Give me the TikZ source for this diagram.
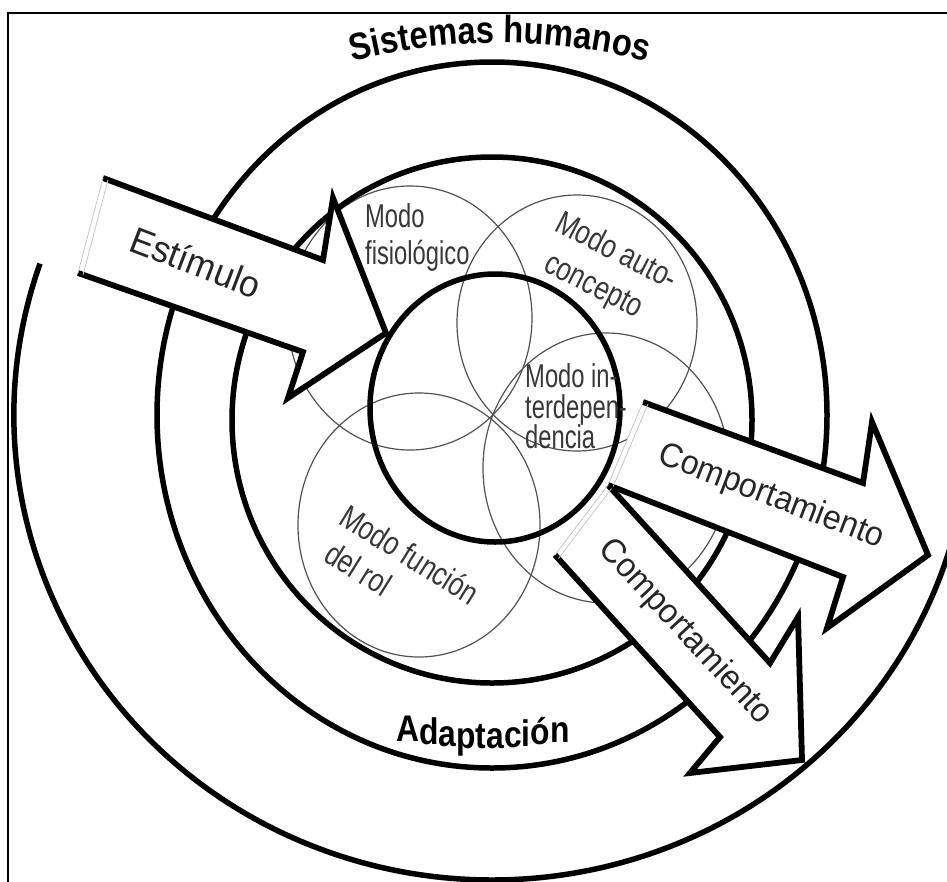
\documentclass[tikz,border=0pt]{standalone}
\usepackage{fontspec}
\setmainfont{Liberation Sans}
\newfontfamily\modefont[FakeStretch=0.72]{Liberation Sans}
\newfontfamily\modefontb[FakeStretch=0.79]{Liberation Sans}
\newfontfamily\arrfont[FakeStretch=0.95]{Liberation Sans}
\newfontfamily\sisfont[FakeStretch=0.86]{Liberation Sans}
\newcommand\lw[2]{\raisebox{-#1pt}{#2}}
\usetikzlibrary{decorations.text}
\begin{document}
\begin{tikzpicture}[x=1pt,y=-1pt,
  ring/.style={draw=black,line width=5.5pt},
  modecirc/.style={draw=black!68,line width=1.2pt},
  arrowedge/.style={draw=black,line width=5.8pt,line join=miter,miter limit=20},
  tailline/.style={draw=black!22,line width=0.8pt},
  modelabel/.style={font=\modefont\fontsize{33}{36}\selectfont,text=black!78,inner sep=0pt},
  modelabelb/.style={font=\modefontb\fontsize{33}{36}\selectfont,text=black!78,inner sep=0pt},
  arrowlabel/.style={font=\arrfont\fontsize{34}{40}\selectfont,text=black!85,inner sep=0pt},
]
\useasboundingbox (0,0) rectangle (947,881);
\clip (0,0) rectangle (947,881);
\fill[white] (0,0) rectangle (947,881);

% frame
\draw[line width=2pt] (8,895) -- (8,13) -- (960,13);

% mode circles
\draw[modecirc] (410,318) ellipse [x radius=122, y radius=132];
\draw[modecirc] (577,323) ellipse [x radius=120, y radius=128];
\draw[modecirc] (606,468) ellipse [x radius=123, y radius=135];
\draw[modecirc] (419,525) ellipse [x radius=121, y radius=132];

% rings
\draw[ring] (495,408) ellipse [x radius=125, y radius=134];
\draw[ring] (492,420) ellipse [x radius=260, y radius=263];
\draw[ring] (492,415) ellipse [x radius=335, y radius=353];
\coordinate (dstart) at (40,263.6);
\draw[ring] (dstart) arc[start angle=199, end angle=14, x radius=478, y radius=465];

% Estimulo arrow
\coordinate (eT1) at (103,178);
\coordinate (eB1) at (323,260);
\coordinate (eB2) at (333,198);
\coordinate (eTip) at (386,333);
\coordinate (eB3) at (288,398);
\coordinate (eB4) at (303,352);
\coordinate (eT2) at (78,273);
\fill[white] (eT1) -- (eB1) -- (eB2) -- (eTip) -- (eB3) -- (eB4) -- (eT2) -- cycle;
\draw[arrowedge] (eT1) -- (eB1) -- (eB2) -- (eTip) -- (eB3) -- (eB4) -- (eT2);
\draw[tailline] (eT1) -- (eT2);
\draw[tailline] ([shift={(5,2)}]eT1) -- ([shift={(5,2)}]eT2);

% upper Comportamiento arrow
\coordinate (uT1) at (643,402);
\coordinate (uB1) at (863,483);
\coordinate (uB2) at (872,422);
\coordinate (uTip) at (928,555);
\coordinate (uB3) at (827,628);
\coordinate (uB4) at (843,577);
\coordinate (uT2) at (608,485);
\fill[white] (uT1) -- (uB1) -- (uB2) -- (uTip) -- (uB3) -- (uB4) -- (uT2) -- cycle;
\draw[arrowedge] (uT1) -- (uB1) -- (uB2) -- (uTip) -- (uB3) -- (uB4) -- (uT2);
\draw[tailline] (uT1) -- (uT2);
\draw[tailline] ([shift={(5,2)}]uT1) -- ([shift={(5,2)}]uT2);

% lower Comportamiento arrow
\coordinate (lB1) at (770,663);
\coordinate (lB2) at (798,617);
\coordinate (lTip) at (802,760);
\coordinate (lB3) at (690,773);
\coordinate (lB4) at (720,737);
\coordinate (lT2) at (555,555);
\fill[white] (uT2) -- (lB1) -- (lB2) -- (lTip) -- (lB3) -- (lB4) -- (lT2) -- cycle;
\draw[arrowedge] (uT2) -- (lB1) -- (lB2) -- (lTip) -- (lB3) -- (lB4) -- (lT2);
\draw[tailline] (uT2) -- (lT2);
\draw[tailline] ([shift={(3.5,3.5)}]uT2) -- ([shift={(3.5,3.5)}]lT2);

% arrow labels
\node[arrowlabel, rotate=-21, font=\arrfont\fontsize{37}{40}\selectfont] (estim) at (196,262) {Estímulo};
\node[arrowlabel, rotate=-21] (comp1) at (771,497) {Comportamiento};
\node[arrowlabel, rotate=-47] (comp2) at (685,632) {Comportamiento};

% mode labels
\node[modelabel, anchor=base west] (fis1) at (365,227) {Modo};
\node[modelabel, anchor=base west] (fis2) at (365,264) {fisiológico};
\node[modelabelb, anchor=base west, rotate=-27] (auto1) at (553,230) {Modo auto-};
\node[modelabelb, anchor=base west, rotate=-27] (auto2) at (542,270) {concepto};
\node[modelabel, anchor=base west] (int1) at (525,387) {Modo in-};
\node[modelabel, anchor=base west] (int2) at (525,418) {terdepen-};
\node[modelabel, anchor=base west] (int3) at (525,448) {dencia};
\node[modelabelb, anchor=base west, rotate=-32] (rol1) at (337,523) {Modo función};
\node[modelabelb, anchor=base west, rotate=-32] (rol2) at (322,560) {del rol};

% Adaptacion: upright letters on a gently curved baseline
\node[inner sep=0pt, anchor=base west, font=\sisfont\bfseries\fontsize{37}{40}\selectfont] (adapt) at (396,741)
  {\lw{0.5}{A}\lw{3.5}{d}\lw{5.5}{a}\lw{7}{p}\lw{7.5}{t}\lw{7.5}{a}\lw{6.5}{c}\lw{5}{i}\lw{3.5}{ó}\lw{1}{n}};

% Sistemas humanos along the top arc
\begin{scope}[y=1pt]
\coordinate (sisstart) at (246.4,-99.2);
\path[decorate, decoration={text along path, text align=center,
  text={|\sisfont\bfseries\fontsize{38}{40}\selectfont|Sistemas humanos}}]
  (sisstart) arc[start angle=115, end angle=65, radius=600];
\end{scope}
\end{tikzpicture}
\end{document}
